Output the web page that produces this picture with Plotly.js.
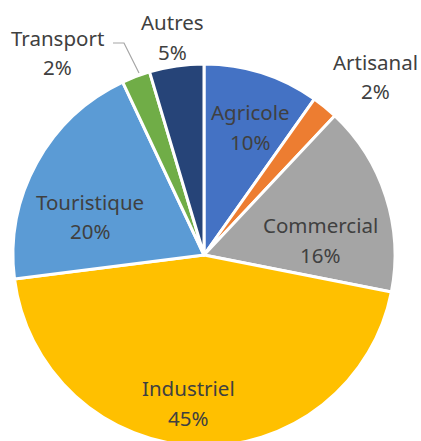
<!DOCTYPE html>
<html>
<head>
<meta charset="utf-8">
<script src="https://cdn.plot.ly/plotly-3.0.1.min.js"></script>
<style>
html,body{margin:0;padding:0;overflow:hidden;background:#fff;}
#chart{width:421px;height:470px;}
</style>
</head>
<body>
<div id="chart"></div>
<script>
// Data
var categories = ["Agricole", "Artisanal", "Commercial", "Industriel", "Touristique", "Transport", "Autres"];
var values = [9.8, 2.2, 16.1, 44.9, 20.0, 2.4, 4.6];
var colors = ["#4472C4", "#ED7D31", "#A5A5A5", "#FFC000", "#5B9BD5", "#70AD47", "#264478"];

var W = 421, H = 470;
function px(x){ return x / W; }
function py(y){ return (H - y) / H; }

// label positions in pixels (name line, percent line)
var labelPos = [
  [250, 112, 142],
  [375, 62, 91],
  [320, 225, 255],
  [188, 388, 418],
  [90, 202, 231],
  [58, 38, 67],
  [172, 22, 52]
];

var total = values.reduce(function(a,b){return a+b;}, 0);
var annotations = [];
var font = {family: "Noto Sans, sans-serif", size: 20.5, color: "#404040"};
categories.forEach(function(c, i){
  var p = labelPos[i];
  annotations.push({xref:"paper", yref:"paper", x:px(p[0]), y:py(p[1]), text:c, showarrow:false, xanchor:"center", yanchor:"middle", font:font});
  annotations.push({xref:"paper", yref:"paper", x:px(p[0]), y:py(p[2]), text:Math.round(values[i]/total*100)+"%", showarrow:false, xanchor:"center", yanchor:"middle", font:font});
});

var trace = {
  type: "pie",
  labels: categories,
  values: values,
  sort: false,
  direction: "clockwise",
  rotation: 0,
  marker: {colors: colors, line: {color: "#ffffff", width: 3}},
  textinfo: "none",
  hoverinfo: "label+percent",
  domain: {x: [px(13), px(395)], y: [py(446), py(64)]}
};

var layout = {
  width: W, height: H,
  margin: {l:0, r:0, t:0, b:0},
  showlegend: false,
  paper_bgcolor: "#ffffff",
  annotations: annotations,
  shapes: [{
    type: "path", xref: "paper", yref: "paper",
    path: "M " + px(113) + " " + py(43) + " L " + px(124) + " " + py(43) + " L " + px(139) + " " + py(73),
    line: {color: "#A6A6A6", width: 1.2}
  }]
};

Plotly.newPlot("chart", [trace], layout, {displayModeBar: false, staticPlot: true});
</script>
</body>
</html>
